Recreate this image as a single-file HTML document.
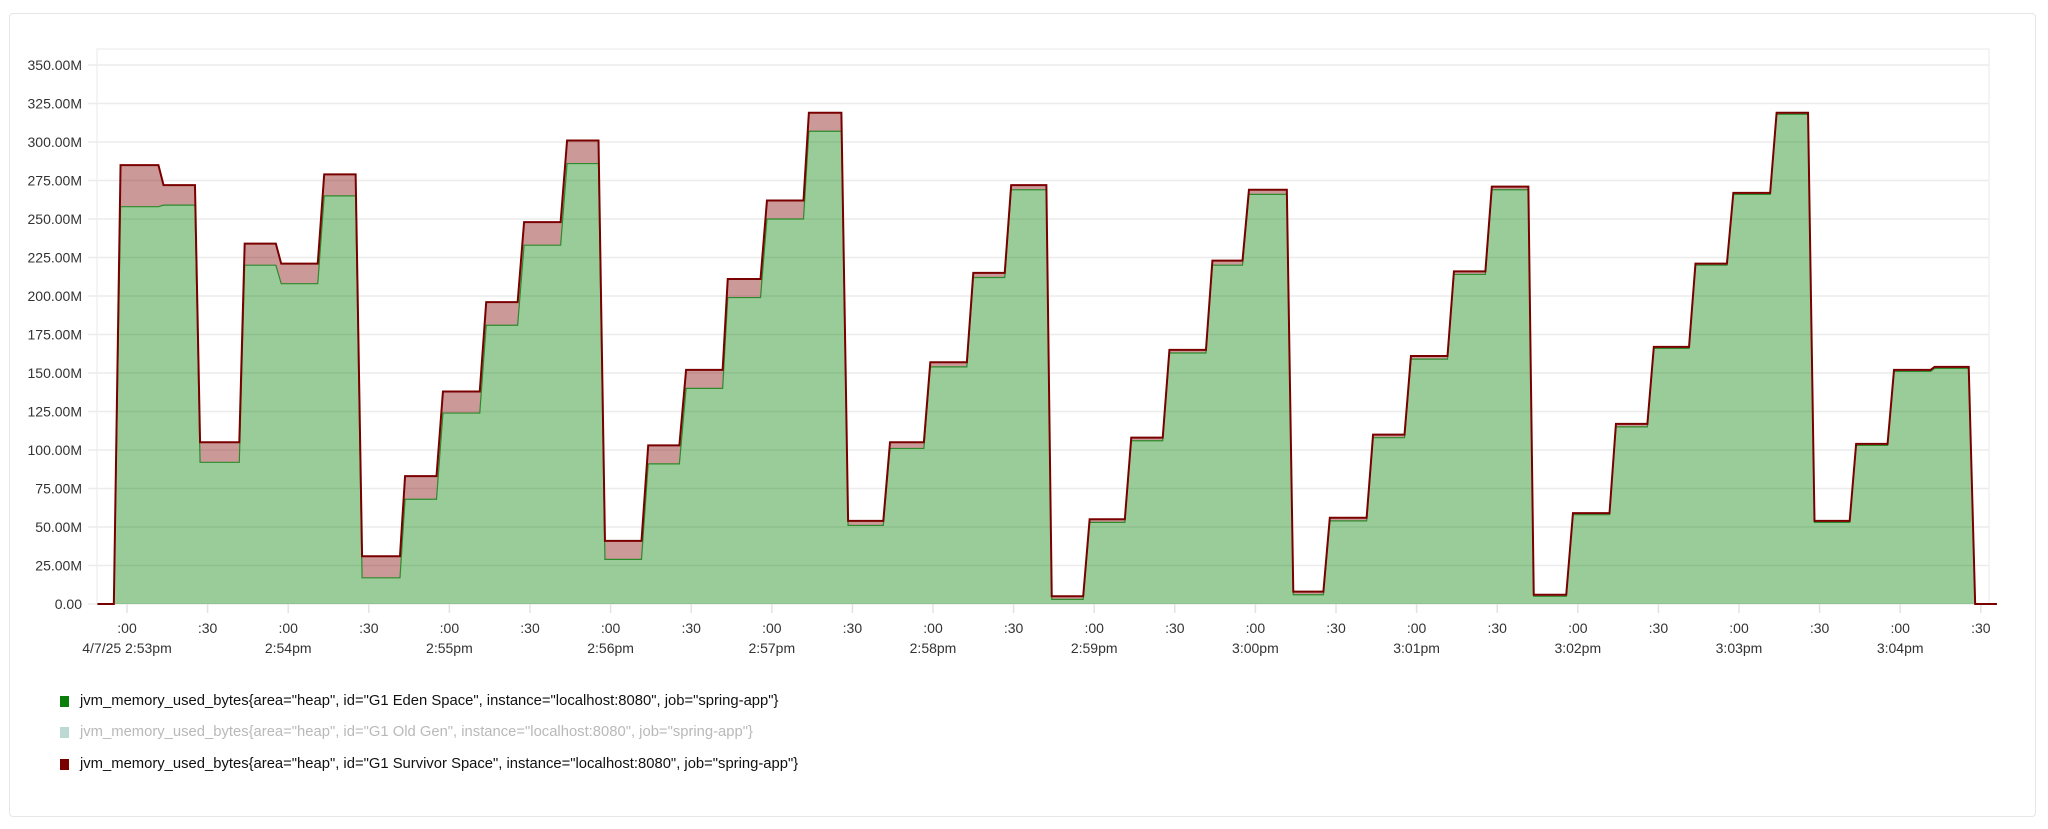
<!DOCTYPE html>
<html><head><meta charset="utf-8">
<style>
html,body{margin:0;padding:0;background:#fff;}
body{width:2048px;height:829px;position:relative;overflow:hidden;font-family:"Liberation Sans",sans-serif;}
#card{position:absolute;left:9px;top:13px;width:2027px;height:804px;border:1px solid #e6e6e6;border-radius:4px;box-sizing:border-box;}
.leg{position:absolute;left:60px;font-size:14.8px;color:#111;display:flex;align-items:center;white-space:nowrap;}
.leg .sw{width:9px;height:11px;margin-right:11px;}
</style></head><body>
<div id="card"></div>
<svg id="chart" width="2048" height="829" style="position:absolute;left:0;top:0"></svg>
<div class="leg" style="top:693px"><div class="sw" style="background:#0a7d0a"></div>jvm_memory_used_bytes{area="heap", id="G1 Eden Space", instance="localhost:8080", job="spring-app"}</div>
<div class="leg" style="top:724px;color:#b9b9b9"><div class="sw" style="background:#bcd9d3"></div>jvm_memory_used_bytes{area="heap", id="G1 Old Gen", instance="localhost:8080", job="spring-app"}</div>
<div class="leg" style="top:756px"><div class="sw" style="background:#7a0000"></div>jvm_memory_used_bytes{area="heap", id="G1 Survivor Space", instance="localhost:8080", job="spring-app"}</div>
<script>
// seconds relative to 2:53:00pm
const times=[-11,-4.9,-2.4,11.7,13.6,25.3,27.2,41.8,43.8,55.4,57.4,71.0,73.4,85.1,87.5,101.6,103.5,115.2,117.6,131.3,133.7,145.4,147.8,161.4,163.8,175.5,177.9,191.5,194.0,205.6,208.1,221.7,223.6,235.8,238.2,251.8,253.8,265.9,268.4,281.5,284.0,296.6,299.0,312.6,315.0,326.7,329.1,342.2,344.2,355.9,358.3,371.4,373.8,385.5,388.0,401.6,404.0,415.2,417.6,431.7,434.1,445.3,447.7,461.4,463.8,475.5,477.9,491.5,493.9,505.6,508.0,521.6,523.6,535.7,538.2,551.8,554.2,565.9,568.3,581.4,583.8,595.5,597.9,611.6,614.0,625.7,628.1,641.2,643.6,655.3,657.7,671.3,672.8,685.5,687.9,696];
const eden=[0,0,258,258,259,259,92,92,220,220,208,208,265,265,17,17,68,68,124,124,181,181,233,233,286,286,29,29,91,91,140,140,199,199,250,250,307,307,51,51,101,101,154,154,212,212,269,269,3,3,53,53,106,106,163,163,220,220,266,266,6,6,54,54,108,108,159,159,214,214,269,269,5,5,58,58,115,115,166,166,220,220,266,266,318,318,53,53,103,103,151,151,153,153,0,0];
const survivor=[0,0,27,27,13,13,13,13,14,14,13,13,14,14,14,14,15,15,14,14,15,15,15,15,15,15,12,12,12,12,12,12,12,12,12,12,12,12,3,3,4,4,3,3,3,3,3,3,2,2,2,2,2,2,2,2,3,3,3,3,2,2,2,2,2,2,2,2,2,2,2,2,1,1,1,1,2,2,1,1,1,1,1,1,1,1,1,1,1,1,1,1,1,1,0,0];
const yTicks=[0,25,50,75,100,125,150,175,200,225,250,275,300,325,350];
const yTickLabels=["0.00","25.00M","50.00M","75.00M","100.00M","125.00M","150.00M","175.00M","200.00M","225.00M","250.00M","275.00M","300.00M","325.00M","350.00M"];
const minuteLabels=["4/7/25 2:53pm","2:54pm","2:55pm","2:56pm","2:57pm","2:58pm","2:59pm","3:00pm","3:01pm","3:02pm","3:03pm","3:04pm"];

const svg=document.getElementById('chart');
const NS='http://www.w3.org/2000/svg';
const PL=97,PR=1989,PT=49,PB=604;
const x=t=>127+t*80.6/30;
const y=v=>PB-v*(PB-65)/350;
function mk(tag,attrs){const e=document.createElementNS(NS,tag);for(const k in attrs)e.setAttribute(k,attrs[k]);svg.appendChild(e);return e;}
const frame=mk('rect',{x:PL,y:PT,width:PR-PL,height:PB-PT,fill:'none',stroke:'#e8e8e8'});


yTicks.forEach((v,i)=>{
  const g=mk('line',{x1:PL-9,x2:PR,y1:y(v),y2:y(v),stroke:'#ececec','stroke-width':1.5});
  
  
  const tx=mk('text',{x:82,y:y(v)+5,'text-anchor':'end','font-size':14,fill:'#333','font-family':'Liberation Sans, sans-serif'});
  tx.textContent=yTickLabels[i];
  
  
});
for(let k=0;k<=23;k++){
  const t=k*30,xx=x(t);
  const tk=mk('line',{x1:xx,x2:xx,y1:PB,y2:PB+9,stroke:'#e2e2e2','stroke-width':1.5});
  
  
  const tx=mk('text',{x:xx,y:633,'text-anchor':'middle','font-size':14,fill:'#333','font-family':'Liberation Sans, sans-serif'});
  tx.textContent=k%2?':30':':00';
  
  
  if(k%2===0&&minuteLabels[k/2]){
    const m=mk('text',{x:xx,y:653,'text-anchor':'middle','font-size':14,fill:'#333','font-family':'Liberation Sans, sans-serif'});
    m.textContent=minuteLabels[k/2];
    
    
  }
}
const topVals=eden.map((e,i)=>e+survivor[i]);
const ptsE=times.map((t,i)=>x(t)+','+y(eden[i]));
const ptsT=times.map((t,i)=>x(t)+','+y(topVals[i]));
const areaE=mk('polygon',{points:x(times[0])+','+PB+' '+ptsE.join(' ')+' '+x(times[times.length-1])+','+PB,fill:'rgba(0,128,0,0.4)'});


const areaS=mk('polygon',{points:ptsT.join(' ')+' '+ptsE.slice().reverse().join(' '),fill:'rgba(128,0,0,0.4)'});


const lineE=mk('polyline',{points:ptsE.join(' '),fill:'none',stroke:'#2d8a2d','stroke-width':1.2});


const lineS=mk('polyline',{points:ptsT.join(' '),fill:'none',stroke:'#7a0000','stroke-width':2});


</script>
</body></html>
